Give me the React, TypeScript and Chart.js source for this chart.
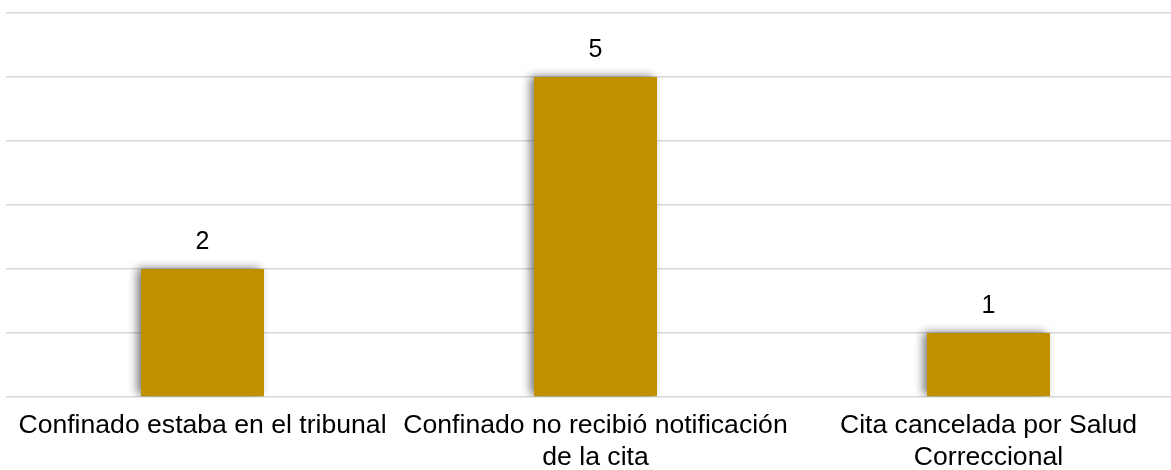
import React, { useEffect, useRef } from "react";
import { Chart, registerables } from "chart.js";

Chart.register(...registerables);

const categories: (string | string[])[] = [
  "Confinado estaba en el tribunal",
  ["Confinado no recibió notificación", "de la cita"],
  ["Cita cancelada por Salud", "Correccional"],
];
const values: number[] = [2, 5, 1];
const yTicks: number[] = [0, 1, 2, 3, 4, 5, 6];

const FONT = "'Liberation Sans', Arial, sans-serif";

const shadowPlugin = {
  id: "barShadow",
  beforeDatasetsDraw(chart: any) {
    const ctx = chart.ctx;
    ctx.save();
    ctx.shadowColor = "rgba(0,0,0,0.55)";
    ctx.shadowBlur = 9;
    ctx.shadowOffsetX = -4;
    ctx.shadowOffsetY = -1;
  },
  afterDatasetsDraw(chart: any) {
    chart.ctx.restore();
  },
};

const valueLabelPlugin = {
  id: "valueLabels",
  afterDatasetsDraw(chart: any) {
    const ctx = chart.ctx;
    const meta = chart.getDatasetMeta(0);
    ctx.save();
    ctx.font = `25px ${FONT}`;
    ctx.fillStyle = "#000000";
    ctx.textAlign = "center";
    ctx.textBaseline = "middle";
    meta.data.forEach((bar: any, i: number) => {
      ctx.fillText(String(values[i]), bar.x, bar.y - 27);
    });
    ctx.restore();
  },
};

export default function App() {
  const ref = useRef<HTMLCanvasElement | null>(null);
  useEffect(() => {
    if (!ref.current) return;
    const chart = new Chart(ref.current, {
      type: "bar",
      data: {
        labels: categories,
        datasets: [
          {
            data: values,
            backgroundColor: "#BF9000",
            borderWidth: 0,
            barPercentage: 0.313,
            categoryPercentage: 1,
          },
        ],
      },
      options: {
        responsive: false,
        animation: false,
        layout: { padding: { top: 13, left: 6, right: 6, bottom: 0 } },
        plugins: { legend: { display: false }, tooltip: { enabled: false } },
        scales: {
          x: {
            grid: { display: false },
            border: { display: false },
            ticks: {
              color: "#000000",
              font: { family: FONT, size: 26.6, lineHeight: 1.2 },
              padding: 5,
              maxRotation: 0,
              autoSkip: false,
            },
            afterFit: (scale: any) => {
              scale.height = 73;
            },
          },
          y: {
            min: 0,
            max: 6,
            afterBuildTicks: (scale: any) => {
              scale.ticks = yTicks.map((v) => ({ value: v }));
            },
            ticks: { display: false },
            grid: { color: "#d9d9d9", lineWidth: 1.5, drawTicks: false },
            border: { display: false },
            afterFit: (scale: any) => {
              scale.width = 0;
            },
          },
        },
      },
      plugins: [shadowPlugin, valueLabelPlugin],
    });
    return () => chart.destroy();
  }, []);
  return (
    <div
      style={{
        position: "fixed",
        left: 0,
        top: 0,
        width: 1171,
        height: 470,
        overflow: "hidden",
        background: "#ffffff",
      }}
    >
      <canvas ref={ref} width={1191} height={470} style={{ display: "block" }} />
    </div>
  );
}
